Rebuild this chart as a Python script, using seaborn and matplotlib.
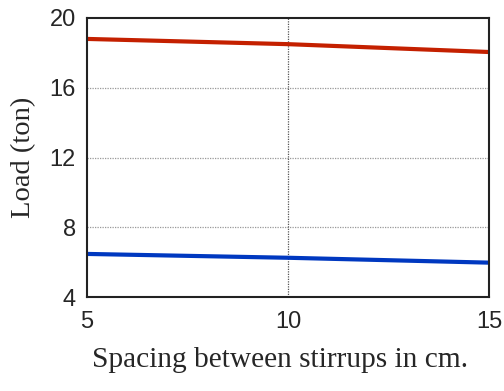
import matplotlib
matplotlib.use("Agg")
import matplotlib.pyplot as plt
import seaborn as sns
import pandas as pd

spacing = [5, 10, 15]
load_upper = [18.8, 18.5, 18.05]
load_lower = [6.47, 6.25, 5.97]
x_ticks = [5, 10, 15]
y_ticks = [4, 8, 12, 16, 20]

sns.set_style("white")
df = pd.DataFrame({"spacing": spacing * 2,
                   "load": load_upper + load_lower,
                   "series": ["upper"] * 3 + ["lower"] * 3})

fig = plt.figure(figsize=(5.04, 3.91), dpi=100)
ax = fig.add_axes([87/504, 1 - 297/391, (489-87)/504, (297-18)/391])
sns.lineplot(data=df, x="spacing", y="load", hue="series",
             palette={"upper": "#c42000", "lower": "#0038c0"},
             linewidth=3, legend=False, ax=ax)

ax.set_xlim(5, 15)
ax.set_ylim(4, 20)
ax.set_xticks(x_ticks)
ax.set_yticks(y_ticks)
ax.tick_params(axis="x", length=0, labelsize=17, pad=10)
ax.tick_params(axis="y", length=0, labelsize=17, pad=8)
for lab in ax.get_xticklabels() + ax.get_yticklabels():
    lab.set_fontfamily("Liberation Sans")
for y in [8, 12, 16]:
    ax.axhline(y, color="#999999", linestyle=(0, (1, 1)), linewidth=0.9, zorder=0)
ax.axvline(10, color="#555555", linestyle=(0, (1, 1)), linewidth=0.9, zorder=0)
for s in ax.spines.values():
    s.set_color("#222222")
    s.set_linewidth(1.5)
ax.set_xlabel("Spacing between stirrups in cm.", fontfamily="Liberation Serif",
              fontsize=21.2)
ax.xaxis.set_label_coords(0.48, -0.18)
ax.set_ylabel("Load (ton)", fontfamily="Liberation Serif", fontsize=20.5, labelpad=10)
fig.savefig("out.png", dpi=100)
